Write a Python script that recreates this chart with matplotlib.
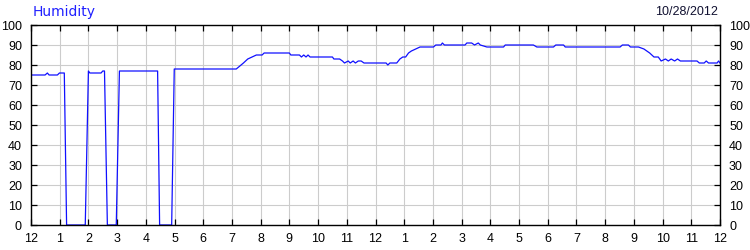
import matplotlib
matplotlib.use("Agg")
import matplotlib.pyplot as plt

# hours since midnight and relative humidity (%)
hours = [
    0.0, 0.49, 0.57, 0.63, 0.92, 0.99, 1.16, 1.24, 1.89, 2.00, 2.05, 2.44,
    2.50, 2.56, 2.66, 2.97, 3.08, 4.41, 4.48, 4.90, 4.99, 7.15, 7.40, 7.55,
    7.70, 7.85, 8.05, 8.12, 9.00, 9.05, 9.35, 9.42, 9.50, 9.58, 9.65, 9.72,
    10.50, 10.55, 10.75, 10.85, 10.92, 11.05, 11.12, 11.22, 11.30, 11.40,
    11.50, 11.60, 12.37, 12.43, 12.50, 12.74, 12.85, 12.95, 13.05, 13.15,
    13.25, 13.40, 13.55, 14.02, 14.10, 14.28, 14.33, 14.40, 15.12, 15.18,
    15.35, 15.45, 15.58, 15.65, 15.88, 16.46, 16.52, 17.50, 17.62, 18.20,
    18.28, 18.55, 18.61, 20.52, 20.60, 20.81, 20.88, 21.16, 21.35, 21.55,
    21.70, 21.85, 21.95, 22.10, 22.20, 22.30, 22.42, 22.52, 22.62, 23.20,
    23.28, 23.45, 23.52, 23.60, 23.90, 23.95, 24.0,
]
humidity = [
    75, 75, 76, 75, 75, 76, 76, 0, 0, 77, 76, 76,
    77, 77, 0, 0, 77, 77, 0, 0, 78, 78, 81, 83,
    84, 85, 85, 86, 86, 85, 85, 84, 85, 84, 85, 84,
    84, 83, 83, 82, 81, 82, 81, 82, 81, 82,
    82, 81, 81, 80, 81, 81, 83, 84, 84, 86,
    87, 88, 89, 89, 90, 90, 91, 90, 90, 91,
    91, 90, 91, 90, 89, 89, 90, 90, 89, 89,
    90, 90, 89, 89, 90, 90, 89, 89, 88, 86,
    84, 84, 82, 83, 82, 83, 82, 83, 82, 82,
    81, 81, 82, 81, 81, 82, 81,
]
hour_labels = ["12"] + [str(h) for h in range(1, 12)] + ["12"] + \
    [str(h) for h in range(1, 12)] + ["12"]

plt.rcParams["font.family"] = ["Liberation Sans", "DejaVu Sans"]

fig = plt.figure(figsize=(7.5, 2.5), dpi=100)
ax = fig.add_axes([31 / 750, 25 / 250, 689 / 750, 200 / 250])

ax.plot(hours, humidity, color="#1010ff", lw=0.9)

ax.set_xlim(0, 24)
ax.set_ylim(0, 100)
ax.set_xticks(range(25))
ax.set_xticklabels(hour_labels)
ax.set_yticks(range(0, 101, 10))
ax.grid(True, color="#cccccc", lw=0.8)
ax.set_axisbelow(True)
ax.tick_params(direction="in", length=4, width=0.9, labelsize=9,
               top=True, right=True, labelright=True)
ax.tick_params(axis="x", pad=6)
ax.tick_params(axis="y", pad=6.5)
for s in ax.spines.values():
    s.set_linewidth(1.0)

fig.text(33 / 750, 1 - 12 / 250, "Humidity", color="#2020ff",
         fontsize=10, va="center", ha="left", family="DejaVu Sans")
fig.text(718 / 750, 1 - 12 / 250, "10/28/2012", color="#101030",
         fontsize=9, va="center", ha="right")

fig.savefig("out.png", dpi=100)
